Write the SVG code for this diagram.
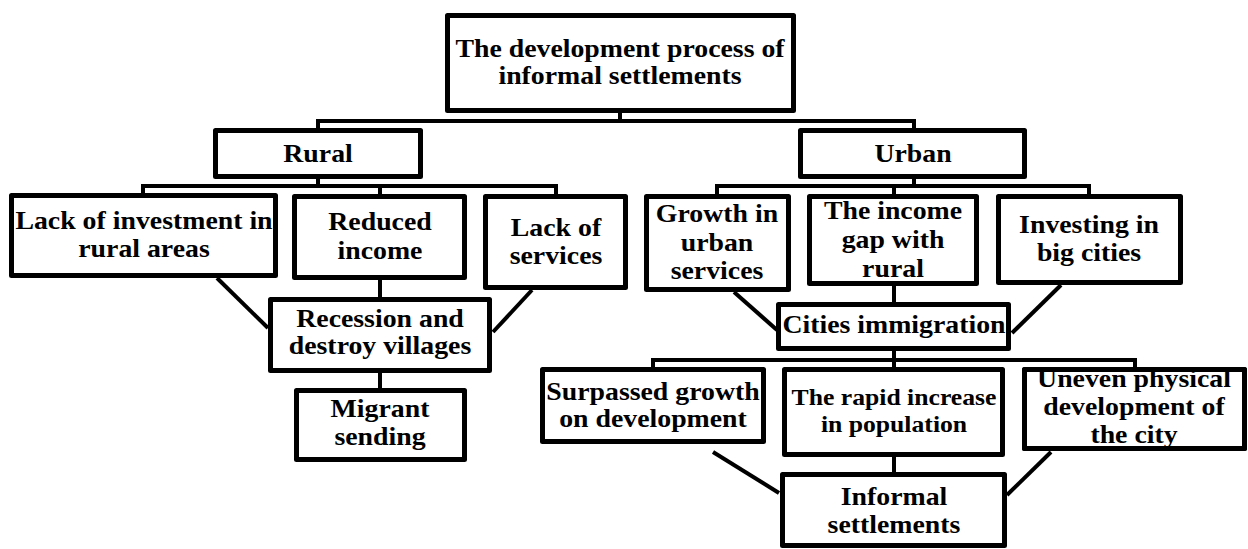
<svg xmlns="http://www.w3.org/2000/svg" width="1248" height="549" viewBox="0 0 1248 549">
  <style>
    .box { fill: #ffffff; stroke: #000000; stroke-width: 5; stroke-linejoin: round; }
    .frame { fill: none; stroke: #000000; stroke-width: 5; stroke-linejoin: round; }
    .lbl { font-family: "Liberation Serif", "Times New Roman", serif; font-weight: bold; font-size: 26px; fill: #000000; text-anchor: middle; }
    .sm { font-size: 24px; }
    .wire { fill: none; stroke: #000000; stroke-width: 4; stroke-linecap: butt; stroke-linejoin: miter; }
  </style>
  <rect width="1248" height="549" fill="#ffffff"/>

  <!-- connectors -->
  <g id="connectors" class="wire">
    <!-- root to Rural / Urban -->
    <path d="M620,113 V121"/>
    <path d="M318,128 V121 H914 V128"/>
    <!-- Rural branch -->
    <path d="M318,179 V186"/>
    <path d="M143,193 V186 H556 V194"/>
    <path d="M380,186 V194"/>
    <path d="M380,280 V297"/>
    <path d="M380,373 V388"/>
    <path d="M217,278 L268,328"/>
    <path d="M532,290 L493,332"/>
    <!-- Urban branch -->
    <path d="M914,179 V186"/>
    <path d="M717,194 V186 H1089 V194"/>
    <path d="M894,186 V194"/>
    <path d="M894,286 V302"/>
    <path d="M734,292 L777,330"/>
    <path d="M1061,285 L1012,333"/>
    <!-- consequences -->
    <path d="M894,351 V360"/>
    <path d="M653,367 V360 H1135 V367"/>
    <path d="M894,360 V367"/>
    <path d="M894,457 V472"/>
    <path d="M713,452 L779,493"/>
    <path d="M1051,452 L1007,495"/>
  </g>

  <!-- labels are set in a slightly widened bold serif -->
  <g id="root">
    <rect class="box" x="447.5" y="15.5" width="346" height="95"/>
    <text class="lbl" transform="translate(620 57) scale(1.07 1)">The development process of</text>
    <text class="lbl" transform="translate(620 84) scale(1.07 1)">informal settlements</text>
  </g>

  <g id="rural">
    <rect class="box" x="215.5" y="130.5" width="205" height="46"/>
    <text class="lbl" transform="translate(318 162) scale(1.07 1)">Rural</text>
  </g>

  <g id="urban">
    <rect class="box" x="800.5" y="130.5" width="224" height="46"/>
    <text class="lbl" transform="translate(913 162) scale(1.07 1)">Urban</text>
  </g>

  <g id="lack-investment">
    <rect class="box" x="11.5" y="195.5" width="264" height="80"/>
    <text class="lbl" transform="translate(144 229) scale(1.07 1)">Lack of investment in</text>
    <text class="lbl" transform="translate(144 257) scale(1.07 1)">rural areas</text>
  </g>

  <g id="reduced-income">
    <rect class="box" x="294.5" y="196.5" width="170" height="81"/>
    <text class="lbl" transform="translate(380 230) scale(1.07 1)">Reduced</text>
    <text class="lbl" transform="translate(380 259) scale(1.07 1)">income</text>
  </g>

  <g id="lack-services">
    <rect class="box" x="485.5" y="196.5" width="140" height="91"/>
    <text class="lbl" transform="translate(556 236) scale(1.07 1)">Lack of</text>
    <text class="lbl" transform="translate(556 264) scale(1.07 1)">services</text>
  </g>

  <g id="recession">
    <rect class="box" x="270.5" y="299.5" width="219" height="71"/>
    <text class="lbl" transform="translate(380 327) scale(1.07 1)">Recession and</text>
    <text class="lbl" transform="translate(380 354) scale(1.07 1)">destroy villages</text>
  </g>

  <g id="migrant-sending">
    <rect class="box" x="296.5" y="390.5" width="168" height="69"/>
    <text class="lbl" transform="translate(380 417) scale(1.07 1)">Migrant</text>
    <text class="lbl" transform="translate(380 445) scale(1.07 1)">sending</text>
  </g>

  <g id="urban-services">
    <rect class="box" x="646.5" y="196.5" width="142" height="93"/>
    <text class="lbl" transform="translate(717 222) scale(1.07 1)">Growth in</text>
    <text class="lbl" transform="translate(717 251) scale(1.07 1)">urban</text>
    <text class="lbl" transform="translate(717 279) scale(1.07 1)">services</text>
  </g>

  <g id="income-gap">
    <rect class="box" x="809.5" y="196.5" width="167" height="87"/>
    <text class="lbl" transform="translate(893 219) scale(1.07 1)">The income</text>
    <text class="lbl" transform="translate(893 248) scale(1.07 1)">gap with</text>
    <text class="lbl" transform="translate(893 277) scale(1.07 1)">rural</text>
  </g>

  <g id="big-cities">
    <rect class="box" x="998.5" y="196.5" width="182" height="86"/>
    <text class="lbl" transform="translate(1089 233) scale(1.07 1)">Investing in</text>
    <text class="lbl" transform="translate(1089 261) scale(1.07 1)">big cities</text>
  </g>

  <g id="cities-immigration">
    <rect class="box" x="778.5" y="304.5" width="230" height="44"/>
    <text class="lbl" transform="translate(894 333) scale(1.07 1)">Cities immigration</text>
  </g>

  <g id="surpassed-growth">
    <rect class="box" x="542.5" y="369.5" width="221" height="72"/>
    <text class="lbl" transform="translate(653 400) scale(1.07 1)">Surpassed growth</text>
    <text class="lbl" transform="translate(653 427) scale(1.07 1)">on development</text>
  </g>

  <g id="population">
    <rect class="box" x="784.5" y="369.5" width="218" height="85"/>
    <text class="lbl sm" transform="translate(894 405) scale(1.07 1)">The rapid increase</text>
    <text class="lbl sm" transform="translate(894 432) scale(1.07 1)">in population</text>
  </g>

  <g id="uneven-development">
    <rect class="box" x="1024.5" y="369.5" width="220" height="79" stroke="none"/>
    <text class="lbl" transform="translate(1134 387) scale(1.07 1)">Uneven physical</text>
    <text class="lbl" transform="translate(1134 415) scale(1.07 1)">development of</text>
    <text class="lbl" transform="translate(1134 443) scale(1.07 1)">the city</text>
    <rect class="frame" x="1024.5" y="369.5" width="220" height="79"/>
  </g>

  <g id="informal-settlements">
    <rect class="box" x="782.5" y="474.5" width="222" height="71"/>
    <text class="lbl" transform="translate(894 505) scale(1.07 1)">Informal</text>
    <text class="lbl" transform="translate(894 533) scale(1.07 1)">settlements</text>
  </g>
</svg>
